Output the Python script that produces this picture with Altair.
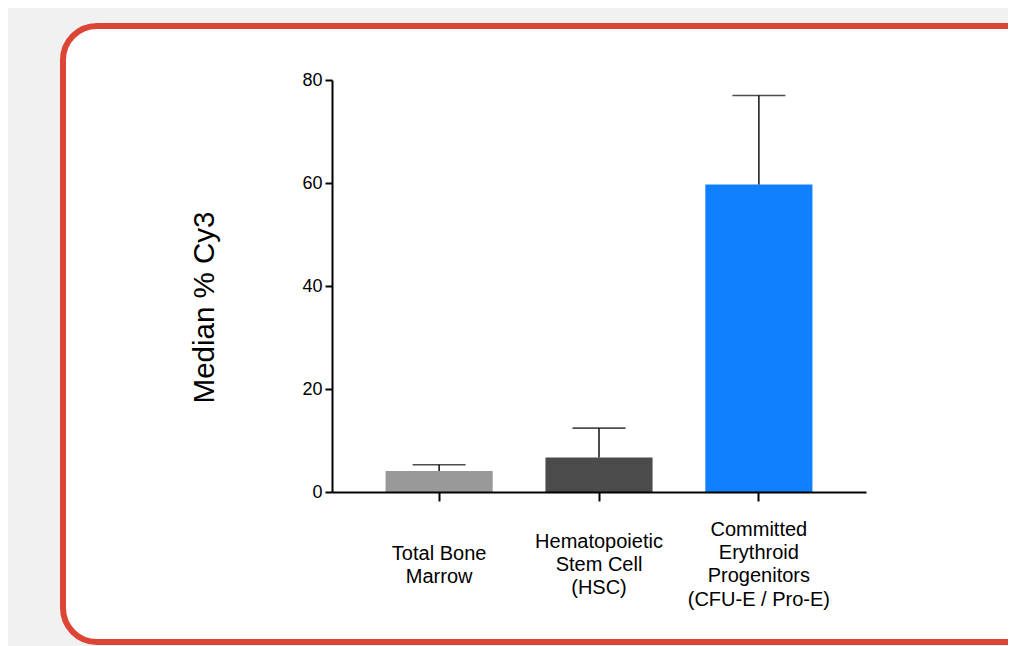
import altair as alt
import pandas as pd

categories = [
    "Total Bone\nMarrow",
    "Hematopoietic\nStem Cell\n(HSC)",
    "Committed\nErythroid\nProgenitors\n(CFU-E / Pro-E)",
]
medians = [4.1, 6.7, 59.7]
upper = [5.3, 12.4, 77.0]
colors = ["#999999", "#4b4b4b", "#1180ff"]
y_ticks = [0, 20, 40, 60, 80]

df = pd.DataFrame({"category": categories, "median": medians, "upper": upper, "color": colors})

FONT = "Liberation Sans"

# vertically centre multi-line labels: shift by half a line per extra line
label_baseline = {
    "condition": [
        {"test": "length(split(datum.value, '\\n')) == 2", "value": "line-top"},
        {"test": "length(split(datum.value, '\\n')) == 4", "value": "line-bottom"},
    ],
    "value": "middle",
}

x_enc = alt.X(
    "category:N",
    sort=categories,
    scale=alt.Scale(paddingInner=0.33, paddingOuter=0.335),
    axis=alt.Axis(
        title=None,
        labelExpr="split(datum.label, '\\n')",
        labelAngle=0,
        labelFontSize=20,
        labelLineHeight=23.4,
        labelBaseline=label_baseline,
        labelPadding=40,
        labelColor="black",
        labelFont=FONT,
        labelLimit=300,
        tickSize=9,
        tickWidth=2,
        tickColor="black",
        domainColor="black",
        domainWidth=2,
        grid=False,
        zindex=1,
    ),
)

y_enc = alt.Y(
    "median:Q",
    scale=alt.Scale(domain=[0, 80], nice=False, zero=True),
    axis=alt.Axis(
        title="Median % Cy3",
        titleFont=FONT,
        titleFontSize=29.5,
        titleFontWeight="normal",
        titleColor="black",
        titleAngle=270,
        titleAlign="center",
        titleBaseline="middle",
        titleX=-128,
        titleY=227,
        values=y_ticks,
        labelFontSize=18,
        labelFont=FONT,
        labelColor="black",
        labelPadding=3,
        tickSize=7,
        tickWidth=2,
        tickColor="black",
        domainColor="black",
        domainWidth=2,
        grid=False,
        zindex=1,
    ),
)

frame = alt.Chart(alt.Data(values=[{"a": 1}])).mark_rect(
    fill="white", stroke="#dc4535", strokeWidth=6, cornerRadius=34
).encode(
    x=alt.value(-269), x2=alt.value(800), y=alt.value(-54), y2=alt.value(562)
)

base = alt.Chart(df)

bars = base.mark_bar().encode(
    x=x_enc,
    y=y_enc,
    color=alt.Color("color:N", scale=None),
)

err = base.mark_rule(color="black", strokeWidth=1.4).encode(
    x=alt.X("category:N", sort=categories),
    y="median:Q",
    y2="upper:Q",
)

caps = base.mark_tick(color="black", thickness=1.6, size=53, orient="horizontal").encode(
    x=alt.X("category:N", sort=categories),
    y="upper:Q",
)

chart = alt.layer(frame, bars, err, caps).properties(
    width=534,
    height=412,
    autosize=alt.AutoSizeParams(type="none"),
    padding={"left": 324, "top": 72, "right": 142, "bottom": 154},
    background="#f1f1f1",
).configure_view(stroke=None)

chart.save("out.html", embed_options={"renderer": "svg", "actions": False})
